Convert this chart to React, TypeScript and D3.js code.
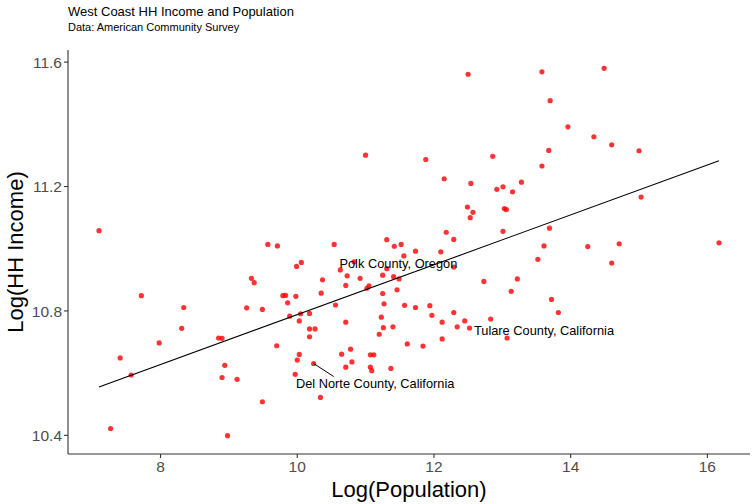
import React from "react";
import * as d3 from "d3";

// log(population), log(median HH income) per county
const logPop = [
  7.10, 9.57, 9.71, 9.33, 9.37, 7.72, 9.79, 9.83, 9.86, 8.34,
  9.26, 9.49, 9.89, 8.31, 7.98, 8.85, 8.90, 9.70, 7.41, 7.57,
  8.94, 8.90, 9.12, 9.49, 7.27, 8.98, 11.00, 11.88, 12.15, 12.54,
  12.49, 12.57, 12.53, 12.18, 12.29, 11.31, 11.42, 11.52, 10.54, 11.73,
  12.10, 11.56, 9.99, 10.06, 10.83, 10.63, 11.31, 12.29, 10.37, 10.73,
  10.92, 11.25, 11.41, 11.49, 10.71, 11.05, 11.02, 11.46, 9.98, 10.35,
  11.25, 10.56, 11.27, 11.57, 11.73, 11.94, 11.97, 12.29, 10.05, 10.18,
  11.23, 10.03, 12.45, 12.12, 12.34, 12.52, 10.71, 10.18, 10.26, 10.18,
  11.20, 11.26, 11.40, 11.61, 11.84, 12.12, 10.78, 10.65, 10.03, 10.00,
  10.80, 11.07, 11.12, 10.24, 10.71, 11.07, 11.09, 11.37, 9.97, 10.34,
  12.50, 13.58, 14.49, 13.70, 13.96, 14.34, 14.60, 15.00, 13.68, 12.86,
  13.58, 13.01, 12.92, 13.28, 13.15, 13.03, 13.06, 13.01, 13.69, 13.61,
  14.25, 14.71, 16.17, 13.52, 14.60, 12.73, 13.22, 13.13, 13.72, 13.82,
  12.83, 13.07, 15.03,
];
const logIncome = [
  11.058, 11.014, 11.009, 10.905, 10.891, 10.849, 10.849, 10.850, 10.826, 10.811,
  10.810, 10.805, 10.783, 10.744, 10.697, 10.713, 10.712, 10.688, 10.649, 10.594,
  10.625, 10.586, 10.580, 10.508, 10.422, 10.399, 11.301, 11.287, 11.225, 11.210,
  11.134, 11.117, 11.100, 11.053, 11.030, 11.029, 11.008, 11.014, 11.014, 10.992,
  10.990, 10.977, 10.943, 10.956, 10.958, 10.932, 10.936, 10.941, 10.900, 10.913,
  10.905, 10.915, 10.910, 10.903, 10.882, 10.881, 10.873, 10.868, 10.847, 10.857,
  10.856, 10.819, 10.823, 10.818, 10.811, 10.817, 10.786, 10.795, 10.791, 10.792,
  10.780, 10.768, 10.768, 10.764, 10.749, 10.745, 10.764, 10.742, 10.742, 10.717,
  10.725, 10.746, 10.749, 10.694, 10.687, 10.710, 10.677, 10.661, 10.660, 10.642,
  10.636, 10.659, 10.659, 10.631, 10.619, 10.619, 10.608, 10.615, 10.596, 10.522,
  11.561, 11.569, 11.580, 11.476, 11.392, 11.360, 11.334, 11.315, 11.316, 11.297,
  11.266, 11.199, 11.191, 11.214, 11.183, 11.129, 11.126, 11.056, 11.066, 11.009,
  11.007, 11.016, 11.019, 10.966, 10.954, 10.895, 10.903, 10.863, 10.837, 10.795,
  10.774, 10.713, 11.166,
];

// linear fit (lm) coefficients
const fitIntercept = 9.986;
const fitSlope = 0.0802;

const xTicks = [8, 10, 12, 14, 16];
const yTicks = [10.4, 10.8, 11.2, 11.6];

// labelled counties: point and label centre, in data units
const labelNames = ["Polk County, Oregon", "Tulare County, California", "Del Norte County, California"];
const labelPointX = [11.31, 13.07, 10.24];
const labelPointY = [10.936, 10.713, 10.631];
const labelX = [11.48, 13.61, 11.14];
const labelY = [10.952, 10.738, 10.567];

const width = 756;
const height = 504;
const marginLeft = 68;
const marginRight = 6;
const marginTop = 50;
const marginBottom = 50;
const font = "'Liberation Sans', Arial, Helvetica, sans-serif";

export default function App() {
  const pts = logPop.map((x, i) => ({ x, y: logIncome[i] }));

  // ggplot-style 5% expansion
  const [x0, x1] = d3.extent(logPop) as [number, number];
  const [y0, y1] = d3.extent(logIncome) as [number, number];
  const dx = (x1 - x0) * 0.05;
  const dy = (y1 - y0) * 0.05;

  const x = d3.scaleLinear().domain([x0 - dx, x1 + dx]).range([marginLeft, width - marginRight]);
  const y = d3.scaleLinear().domain([y0 - dy, y1 + dy]).range([height - marginBottom, marginTop]);

  const fitLine = d3.line<number>()
    .x(d => x(d))
    .y(d => y(fitIntercept + fitSlope * d));

  const bottom = height - marginBottom;

  return (
    <svg
      width={width}
      height={height}
      style={{ position: "absolute", left: 0, top: 0, background: "#fff", fontFamily: font }}
    >
      <text x={marginLeft} y={16} fontSize={13} fill="#000">West Coast HH Income and Population</text>
      <text x={marginLeft} y={31} fontSize={11} fill="#000">Data: American Community Survey</text>

      {/* axes */}
      <line x1={marginLeft} x2={marginLeft} y1={marginTop} y2={bottom} stroke="#333" strokeWidth={1.1} />
      <line x1={marginLeft} x2={width - marginRight} y1={bottom} y2={bottom} stroke="#333" strokeWidth={1.1} />

      {yTicks.map(t => (
        <g key={t}>
          <line x1={marginLeft - 4} x2={marginLeft} y1={y(t)} y2={y(t)} stroke="#333" strokeWidth={1.1} />
          <text x={marginLeft - 6} y={y(t)} dy="0.36em" textAnchor="end" fontSize={15.5} fill="#4d4d4d">
            {t.toFixed(1)}
          </text>
        </g>
      ))}
      {xTicks.map(t => (
        <g key={t}>
          <line x1={x(t)} x2={x(t)} y1={bottom} y2={bottom + 4} stroke="#333" strokeWidth={1.1} />
          <text x={x(t)} y={bottom + 18} textAnchor="middle" fontSize={15.5} fill="#4d4d4d">{t}</text>
        </g>
      ))}

      <text x={(marginLeft + width - marginRight) / 2} y={497} textAnchor="middle" fontSize={22} fill="#000">
        Log(Population)
      </text>
      <text
        transform={`translate(23,${(marginTop + bottom) / 2}) rotate(-90)`}
        textAnchor="middle"
        fontSize={22}
        fill="#000"
      >
        Log(HH Income)
      </text>

      {/* points */}
      {pts.map((d, i) => (
        <circle key={i} cx={x(d.x)} cy={y(d.y)} r={2.6} fill="#ff0000" fillOpacity={0.8} />
      ))}

      {/* fitted line */}
      <path d={fitLine([x0, x1]) ?? ""} fill="none" stroke="#000" strokeWidth={1.1} />

      {/* labels */}
      <line
        x1={x(labelPointX[2])}
        y1={y(labelPointY[2])}
        x2={x(labelPointX[2]) + 20}
        y2={y(labelPointY[2]) + 13}
        stroke="#000"
        strokeWidth={1}
      />
      {labelNames.map((name, i) => (
        <text
          key={name}
          x={x(labelX[i])}
          y={y(labelY[i])}
          dy="0.35em"
          textAnchor="middle"
          fontSize={12.8}
          fill="#000"
        >
          {name}
        </text>
      ))}
    </svg>
  );
}
